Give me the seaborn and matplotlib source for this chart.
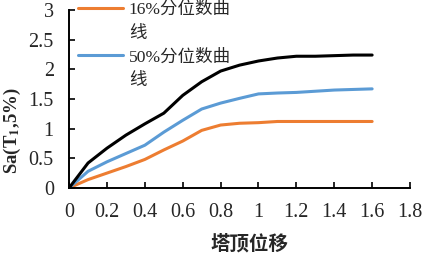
import numpy as np
import pandas as pd
import matplotlib.pyplot as plt
import matplotlib.ticker as mticker
from matplotlib.lines import Line2D
import seaborn as sns

disp = [0, 0.1, 0.2, 0.3, 0.4, 0.5, 0.6, 0.7, 0.8, 0.9, 1.0, 1.1, 1.2, 1.3, 1.4, 1.5, 1.6]
q16 = [0, 0.14, 0.25, 0.36, 0.48, 0.64, 0.79, 0.97, 1.06, 1.09, 1.10, 1.12, 1.12, 1.12, 1.12, 1.12, 1.12]
q50 = [0, 0.28, 0.44, 0.58, 0.72, 0.94, 1.14, 1.33, 1.43, 1.51, 1.585, 1.60, 1.61, 1.63, 1.65, 1.66, 1.67]
q84 = [0, 0.42, 0.67, 0.89, 1.08, 1.26, 1.56, 1.79, 1.97, 2.07, 2.14, 2.19, 2.22, 2.22, 2.23, 2.24, 2.24]

sns.set_style('ticks')
plt.rcParams['font.family'] = ['Liberation Serif', 'Noto Sans CJK SC']
plt.rcParams['mathtext.fontset'] = 'stix'

fig = plt.figure(figsize=(4.24, 2.56), dpi=100)
ax = fig.add_axes([0.163, 0.266, 0.804, 0.695])

sns.lineplot(x=disp, y=q16, color='#ED7D31', lw=2.2, label='16%分位数曲', ax=ax)
sns.lineplot(x=disp, y=q50, color='#5B9BD5', lw=2.2, label='50%分位数曲', ax=ax)
sns.lineplot(x=disp, y=q84, color='black', lw=2.2, label='_nolegend_', ax=ax)

ax.set_xlim(0, 1.8)
ax.set_ylim(0, 3)
ax.set_xticks(np.arange(0, 1.81, 0.2))
ax.set_yticks(np.arange(0, 3.01, 0.5))
ax.xaxis.set_major_formatter(mticker.FormatStrFormatter('%g'))
ax.yaxis.set_major_formatter(mticker.FormatStrFormatter('%g'))
ax.tick_params(direction='in', length=4, width=1.2, labelsize=14.5, color='black', pad=11)
for s in ['top', 'right']:
    ax.spines[s].set_visible(False)
for s in ['left', 'bottom']:
    ax.spines[s].set_linewidth(1.4)
    ax.spines[s].set_color('black')

ax.set_xlabel('塔顶位移', fontsize=14, fontweight='bold')
ax.xaxis.set_label_coords(0.528, -0.262)
ax.set_ylabel('Sa(T$_\\mathbf{1}$,5%)', fontsize=13.5, fontweight='bold')
ax.yaxis.set_label_coords(-0.136, 0.32)

# wrapped legend labels: second line as a handle-less entry
h, l = ax.get_legend_handles_labels()
blank = Line2D([], [], color='none')
handles = [h[0], blank, h[1], blank]
labels = [l[0], '线', l[1], '线']
leg = ax.legend(handles, labels, loc='upper left', bbox_to_anchor=(0.026, 1.045), frameon=False,
                fontsize=12.6, handlelength=2.6, handletextpad=0.3, labelspacing=0.42,
                borderpad=0, borderaxespad=0)

fig.savefig('out.png', dpi=100)
